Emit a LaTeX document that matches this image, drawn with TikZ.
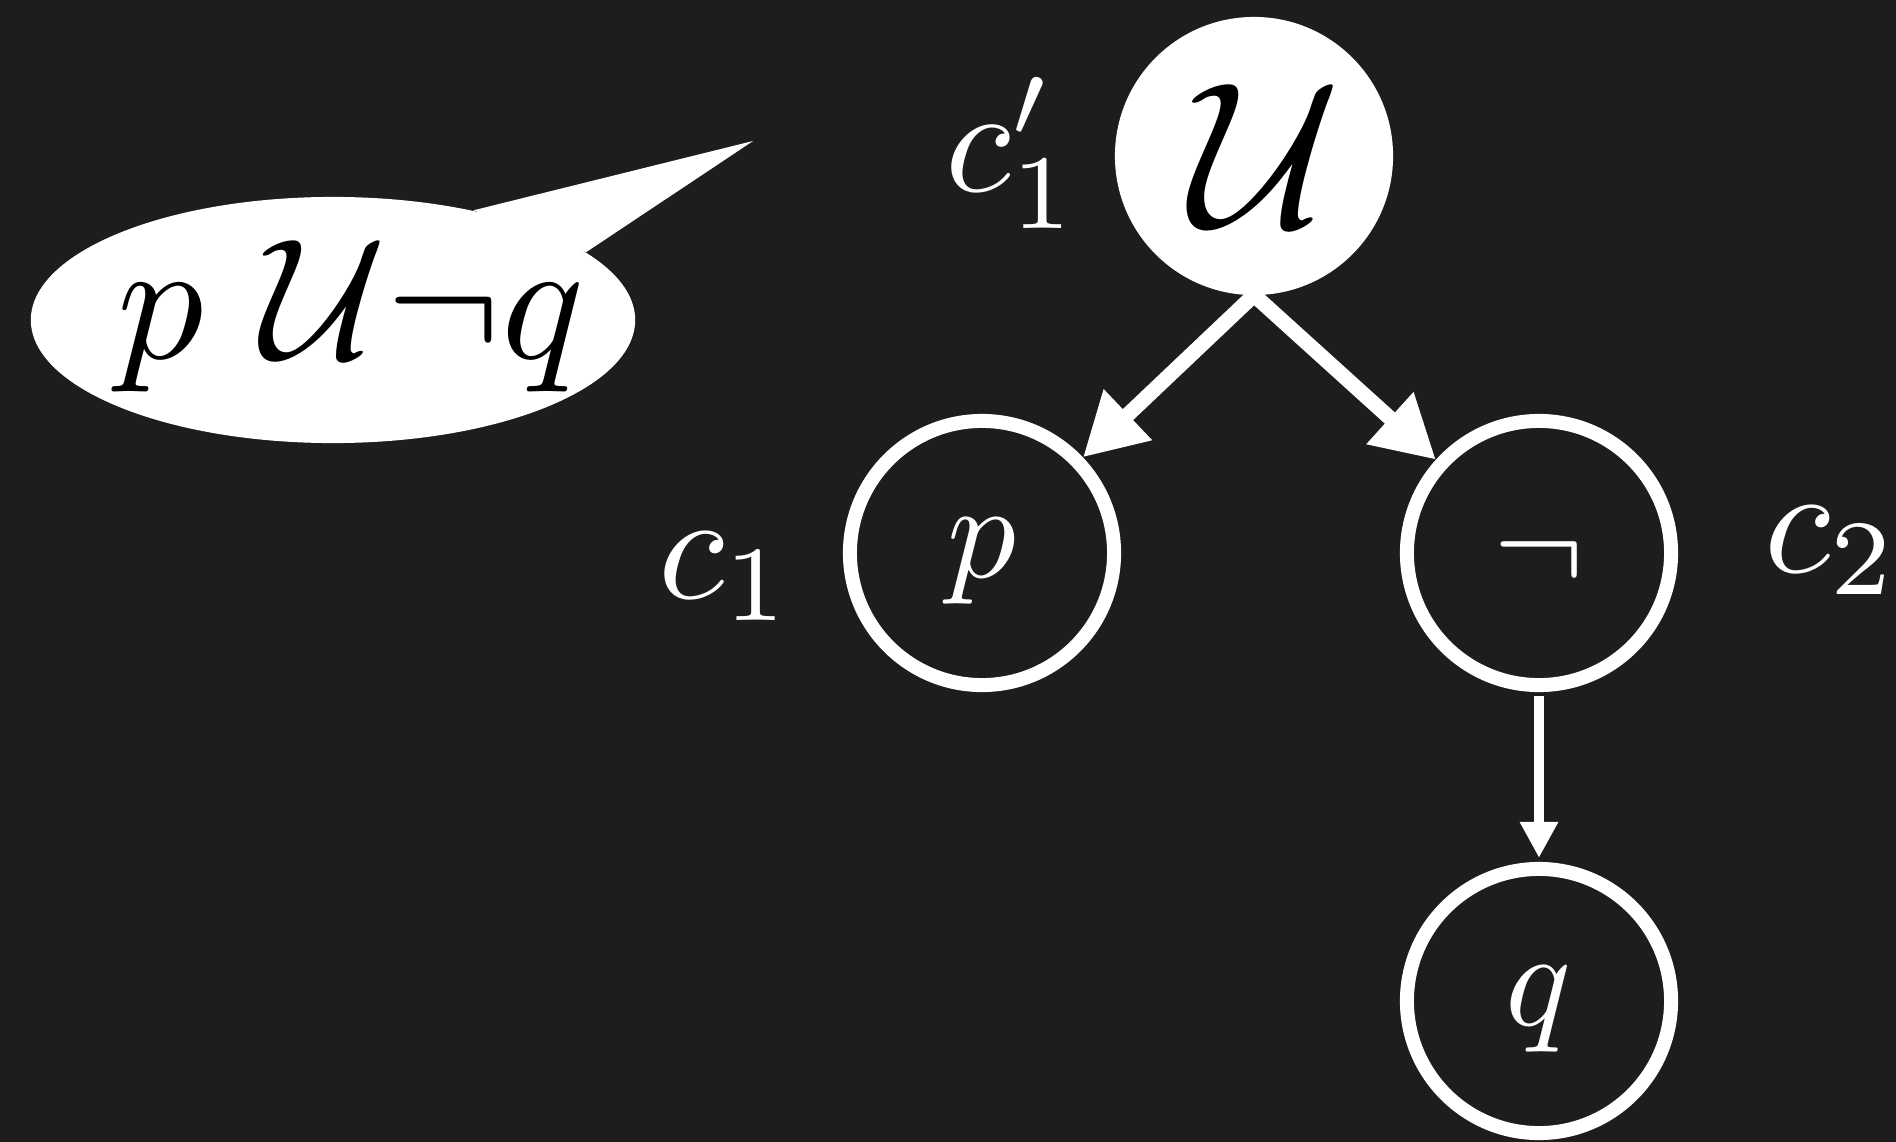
\documentclass[tikz,border=0pt]{standalone}
\usetikzlibrary{arrows.meta,shapes.geometric}
\definecolor{bg}{RGB}{29,29,29}
\newcommand{\myscaled}[2]{\scalebox{#1}{$#2$}}
\begin{document}
\begin{tikzpicture}[x=0.01cm,y=-0.01cm,
  ring/.style={circle,draw=white,line width=0.14cm,minimum size=2.64cm,inner sep=0pt,text=white,text height=21.4pt},
  fillednode/.style={circle,fill=white,draw=white,line width=0.14cm,minimum size=2.64cm,inner sep=0pt,text=black},
  lbl/.style={text=white,anchor=base west,inner sep=0pt},
  bigedge/.style={white,line width=0.15cm,-{Triangle[length=0.62cm,width=0.66cm]}},
  thinedge/.style={white,line width=0.1cm,-{Triangle[length=0.36cm,width=0.36cm]},shorten <=0.04cm,shorten >=0.04cm},
  bubblestyle/.style={ellipse,fill=white,minimum width=6.04cm,minimum height=2.46cm,inner sep=0pt}
]
\fill[bg] (0,0) rectangle (1896,1142);
\useasboundingbox (0,0) rectangle (1896,1142);

% speech bubble
\node[bubblestyle] (bubble) at (333,320) {};
\coordinate (tip) at (753,141);
\fill[white] (bubble.38.7) -- (tip) -- (bubble.15.6) -- cycle;
\node[text=black,anchor=base,inner sep=0pt] (btext) at (351,358) {\myscaled{4.9}{p\mskip6mu\mathcal{U}\neg q}};

% tree nodes
\node[fillednode] (U) at (1254,156) {\hspace*{0.24cm}\myscaled{5.9}{\mathcal{U}}};
\node[ring] (p) at (982,553) {\myscaled{3.9}{p}};
\node[ring] (neg) at (1539,553) {\myscaled{3.9}{\neg}};
\node[ring] (q) at (1539,1001) {\myscaled{3.9}{q}};

% labels
\node[lbl] (lU) at (945,191) {\myscaled{4.3}{c_1'}};
\node[lbl] (lp) at (658,598) {\myscaled{4.35}{c_1}};
\node[lbl] (lneg) at (1764,572) {\myscaled{4.35}{c_2}};

% connectors
\draw[bigedge] (U.south) -- (p);
\draw[bigedge] (U.south) -- (neg);
\draw[thinedge] (neg) -- (q);
\end{tikzpicture}
\end{document}
